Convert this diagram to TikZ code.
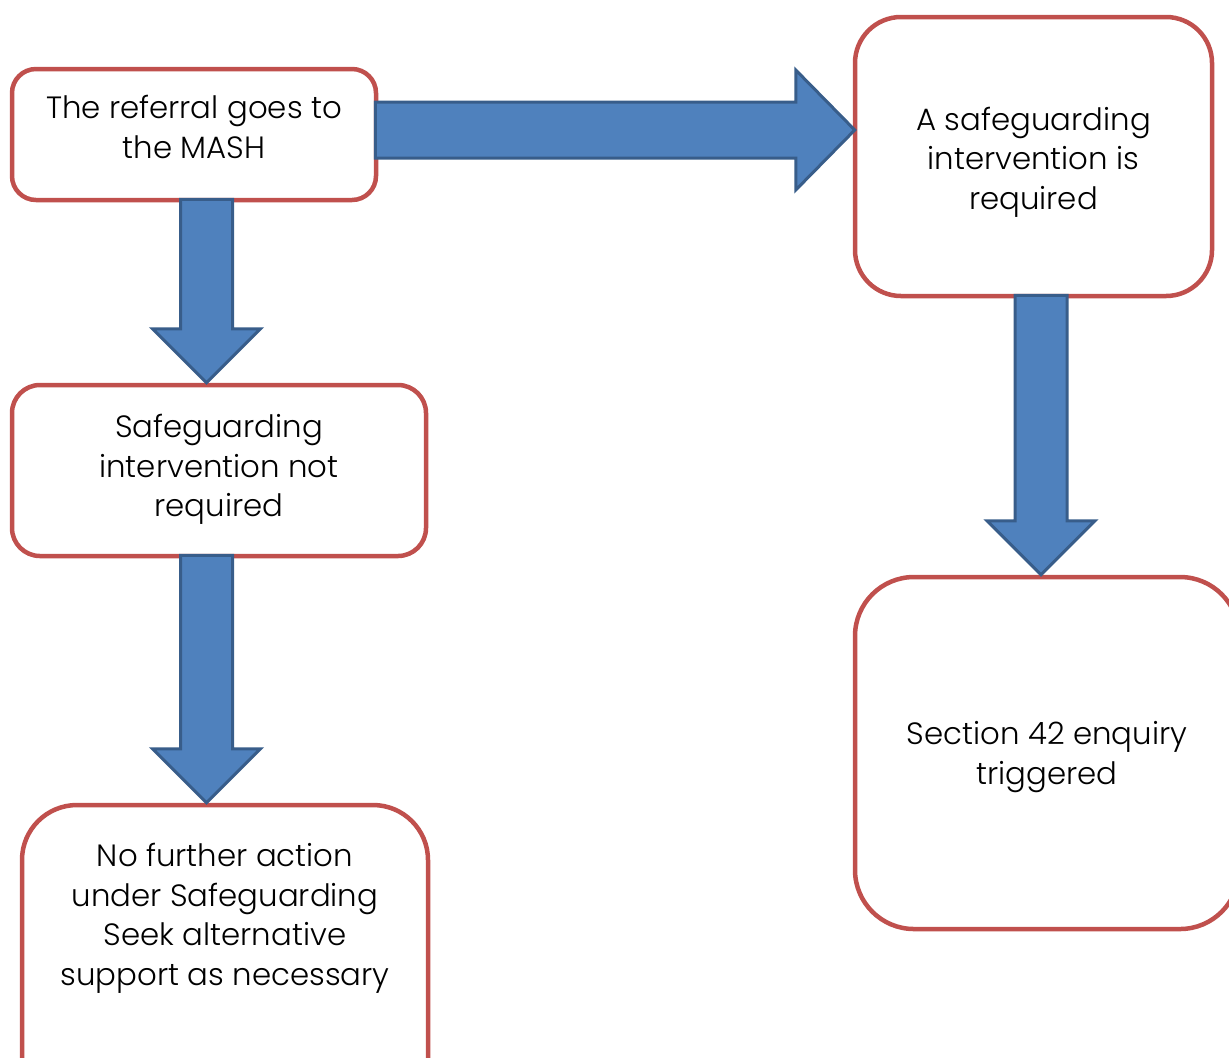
\documentclass[tikz,border=0pt]{standalone}
\usepackage{fontspec}
\setmainfont{Poppins}[UprightFont=* Light]
\usetikzlibrary{calc}

\definecolor{boxred}{HTML}{C0504D}
\definecolor{arrowblue}{HTML}{4F81BD}
\definecolor{arrowedge}{HTML}{385D8A}

\tikzset{
  box/.style={draw=boxred, line width=2.25pt, fill=white, rounded corners=#1},
  boxtext/.style={align=center, font=\fontsize{15.4pt}{19.75pt}\selectfont},
  fatarrow/.style={draw=arrowedge, fill=arrowblue, line width=1.5pt, line join=miter},
}

% block arrow pointing down, from #1 to the tip #2
\newcommand{\fatdown}[2]{%
  \draw[fatarrow] ($(#1)+(-26,-3)$) -- ($(#2)+(-26,-54)$) -- ($(#2)+(-54,-54)$) -- (#2)
    -- ($(#2)+(54,-54)$) -- ($(#2)+(26,-54)$) -- ($(#1)+(26,-3)$) -- cycle;
}

\begin{document}
\begin{tikzpicture}[x=0.5pt, y=-0.5pt]
  \useasboundingbox (0,0) rectangle (1229,1057);
  \clip (0,0) rectangle (1229,1057);

  % boxes
  \node[box=12pt, minimum width=182pt, minimum height=65.5pt] (refer) at (194,134.5) {};
  \node[box=14pt, minimum width=207pt, minimum height=85.5pt] (notreq) at (219,470.5) {};
  \node[box=27.5pt, minimum width=203pt, minimum height=162.5pt] (nfa) at (225,967.5) {};
  \node[box=23pt, minimum width=178.5pt, minimum height=139.5pt] (req) at (1033.5,156.5) {};
  \node[box=29.5pt, minimum width=192pt, minimum height=176pt] (s42) at (1047,753) {};

  % texts
  \node[boxtext] (refertext) at (194,127) {The referral goes to\\the MASH};
  \node[boxtext] (notreqtext) at (219,469.5) {Safeguarding\\intervention not\\required};
  \node[boxtext] (nfatext) at (225,918.5)
    {No further action\\under Safeguarding\\Seek alternative\\support as necessary};
  \node[boxtext] (reqtext) at (1033.5,162) {A safeguarding\\intervention is\\required};
  \node[boxtext] (s42text) at (1047,757) {Section 42 enquiry\\triggered};

  % arrows
  \coordinate (leftcol) at (206.5,0);
  \coordinate (rightcol) at (1041,0);
  \coordinate (toprow) at (0,130);
  \fatdown{refer.south -| leftcol}{notreq.north -| leftcol}
  \fatdown{notreq.south -| leftcol}{nfa.north -| leftcol}
  \fatdown{req.south -| rightcol}{s42.north -| rightcol}
  \draw[fatarrow] ($(refer.east |- toprow)+(-3,-28)$) -- ($(req.west |- toprow)+(-57,-28)$)
    -- ($(req.west |- toprow)+(-57,-60)$) -- ($(req.west |- toprow)+(2,0)$)
    -- ($(req.west |- toprow)+(-57,60)$) -- ($(req.west |- toprow)+(-57,28)$)
    -- ($(refer.east |- toprow)+(-3,28)$) -- cycle;
\end{tikzpicture}
\end{document}
